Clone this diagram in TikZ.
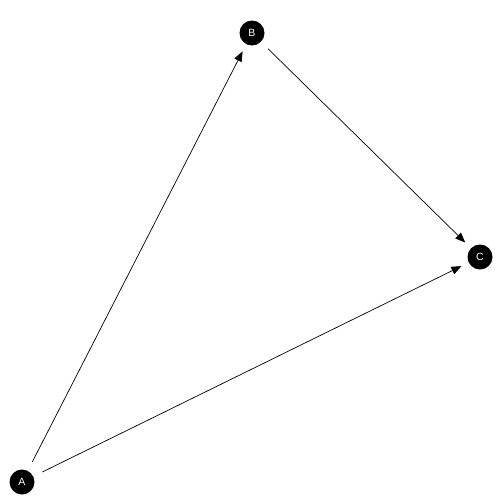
\documentclass[tikz,border=0pt]{standalone}
\usepackage{fontspec}
\setsansfont{Liberation Sans}
\usetikzlibrary{arrows.meta}

\begin{document}
\begin{tikzpicture}[x=1pt, y=-1pt, >={Triangle[length=10pt, width=8pt]}]
    \tikzstyle{vertex} = [fill=black, circle, minimum size=25pt,
	inner sep=0pt, text=white, font=\sffamily\fontsize{10.5}{12}\selectfont]
    \tikzstyle{link} = [->, line width=0.7pt, shorten <=10pt, shorten >=8pt]

	\useasboundingbox (0,0) rectangle (504,504);

	\begin{scope}
		\path
			node[vertex] (A) at (22,482) {A}
			node[vertex] (B) at (252,33) {B}
			node[vertex] (C) at (480,257) {C}

			(A) edge[link] (B)
			(A) edge[link] (C)
			(B) edge[link] (C)
		;
	\end{scope}
\end{tikzpicture}
\end{document}
